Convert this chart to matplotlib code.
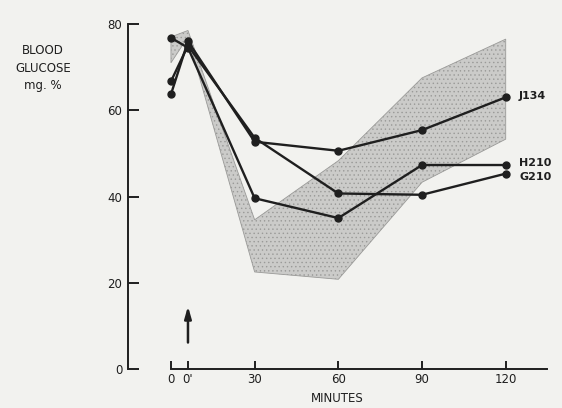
import matplotlib
matplotlib.use("Agg")
import matplotlib.pyplot as plt
from matplotlib.patches import Polygon

# ---- data ----
x_ticks = [0, 6.1, 30, 60, 90, 120]
x_tick_labels = ["0", "0'", "30", "60", "90", "120"]
y_ticks = [0, 20, 40, 60, 80]

times = [0, 6.1, 30, 60, 90, 120]
j134 = [63.7, 76.0, 52.7, 50.6, 55.4, 63.0]
g210 = [66.7, 75.0, 53.6, 40.7, 40.4, 45.3]
h210 = [76.8, 74.5, 39.6, 35.0, 47.3, 47.3]
series = {"J134": j134, "H210": h210, "G210": g210}
label_y = {"J134": 63.3, "H210": 47.8, "G210": 44.6}

band_upper_x = [0, 6.1, 30, 60, 90, 120]
band_upper_y = [77.0, 78.5, 34.6, 48.3, 67.5, 76.5]
band_lower_x = [120, 90, 60, 30, 6.1, 0]
band_lower_y = [53.3, 43.3, 20.8, 22.5, 77.0, 71.0]

arrow_x = 6.1
arrow_y = (5.5, 15.2)

# ---- figure ----
bg = "#f2f2ef"
ink = "#1f1f1f"
plt.rcParams['hatch.color'] = "#a8a8a6"
plt.rcParams['hatch.linewidth'] = 0.5
fig = plt.figure(figsize=(5.62, 4.08), dpi=100, facecolor=bg)
ax = fig.add_axes([128/562, (408-369)/408, (547-128)/562, (369-24)/408])
ax.set_facecolor(bg)
ax.set_xlim(-15.4, 134.8)
ax.set_ylim(0, 80)

pts = list(zip(band_upper_x, band_upper_y)) + list(zip(band_lower_x, band_lower_y))
ax.add_patch(Polygon(pts, closed=True, facecolor="#cbcbc9", edgecolor="#9a9a98",
                     linewidth=0.6, hatch="....", zorder=1))

for name, vals in series.items():
    ax.plot(times, vals, color=ink, lw=1.7, marker="o", ms=5, zorder=3)
    ax.text(124.8, label_y[name], name, fontsize=8, color=ink, ha="left",
            va="center", fontweight="bold", zorder=4)

ax.annotate("", xy=(arrow_x, arrow_y[1]), xytext=(arrow_x, arrow_y[0]),
            arrowprops=dict(arrowstyle="-|>,head_width=0.2,head_length=0.7",
                            color=ink, lw=1.8))

for s in ["top", "right"]:
    ax.spines[s].set_visible(False)
ax.spines["left"].set_bounds(0, 80)
ax.spines["bottom"].set_bounds(0, 134.8)
for s in ["left", "bottom"]:
    ax.spines[s].set_color(ink)
    ax.spines[s].set_linewidth(1.4)

ax.set_xticks(x_ticks)
ax.set_xticklabels(x_tick_labels)
ax.set_yticks(y_ticks)
ax.tick_params(axis="y", direction="in", length=8, width=1.4, color=ink,
               labelsize=8.5, labelcolor=ink, pad=4)
ax.tick_params(axis="x", direction="in", length=6, width=1.4, color=ink,
               labelsize=8.5, labelcolor=ink, pad=3)

ax.set_xlabel("MINUTES", fontsize=8.5, color=ink, labelpad=4)
fig.text(43/562, 1 - 68/408, "BLOOD\nGLUCOSE\nmg. %", ha="center", va="center",
         fontsize=8.5, color=ink, linespacing=1.45)

fig.savefig("out.png", dpi=100, facecolor=bg)
